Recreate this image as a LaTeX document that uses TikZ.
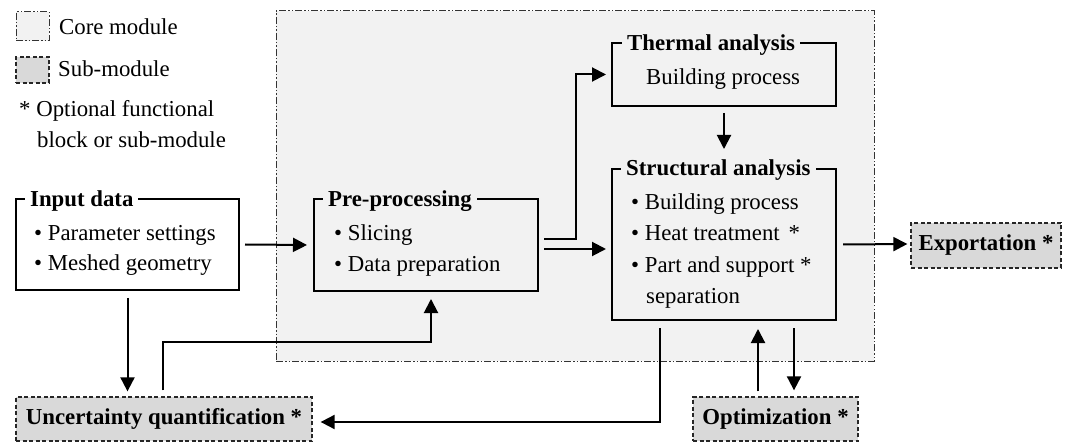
\documentclass[tikz,border=0pt]{standalone}
\usepackage{fontspec}
\setmainfont{Liberation Serif}
\usetikzlibrary{arrows.meta,calc}
\definecolor{corebg}{HTML}{F2F2F2}
\definecolor{subbg}{HTML}{D9D9D9}
\begin{document}
\begin{tikzpicture}[x=1pt,y=-1pt,
  every node/.style={font=\fontsize{22.8}{30}\selectfont},
  corebox/.style={draw=black!80,fill=corebg,line width=1pt,
     dash pattern=on 7pt off 2pt on 1.5pt off 2pt on 1.5pt off 2pt,inner sep=0pt},
  subbox/.style={draw=black!85,fill=subbg,line width=1.3pt,dash pattern=on 4pt off 2.5pt,inner sep=0pt,font=\fontsize{22.8}{30}\selectfont\bfseries},
  blk/.style={draw=black,line width=2pt,inner sep=0pt},
  ttl/.style={anchor=base west,inner xsep=5pt,inner ysep=1pt,font=\fontsize{22.8}{30}\selectfont\bfseries},
  txt/.style={anchor=base west,inner sep=0pt},
  arr/.style={line width=2pt,-{Triangle[length=14pt,width=14pt]}},
]
\useasboundingbox (0,0) rectangle (1067,443);

% core module area
\node[corebox,minimum width=598pt,minimum height=350pt] (core) at (575,186) {};

% legend
\node[corebox,minimum width=33pt,minimum height=29pt] (lgcore) at (32.5,26.5) {};
\node[txt] (lgcoret) at (59,35) {Core module};
\node[subbox,minimum width=33pt,minimum height=26pt] (lgsub) at (32.5,70) {};
\node[txt] (lgsubt) at (58,77) {Sub-module};
\node[txt] (lgopt1) at (19,117) {* Optional functional};
\node[txt] (lgopt2) at (37,148) {block or sub-module};

% Input data
\node[blk,minimum width=223pt,minimum height=91pt] (inp) at (127.5,244.5) {};
\node[ttl,fill=white] (inpT) at (25,207) {Input data};
\node[txt] (inp1) at (34,241) {\textbullet\ Parameter settings};
\node[txt] (inp2) at (34,271) {\textbullet\ Meshed geometry};

% Pre-processing
\node[blk,minimum width=224pt,minimum height=92pt] (pre) at (426,245) {};
\node[ttl,fill=corebg] (preT) at (323,207) {Pre-processing};
\node[txt] (pre1) at (334,241) {\textbullet\ Slicing};
\node[txt] (pre2) at (334,272) {\textbullet\ Data preparation};

% Thermal analysis
\node[blk,minimum width=224pt,minimum height=63pt] (therm) at (724,74.5) {};
\node[ttl,fill=corebg] (thermT) at (622,50.5) {Thermal analysis};
\node[txt] (therm1) at (646,85) {Building process};

% Structural analysis
\node[blk,minimum width=224pt,minimum height=151pt] (struct) at (724,244.5) {};
\node[ttl,fill=corebg] (structT) at (621,176) {Structural analysis};
\node[txt] (st1) at (631,210) {\textbullet\ Building process};
\node[txt] (st2) at (631,241) {\textbullet\ Heat treatment\hspace{9pt}*};
\node[txt] (st3) at (631,273) {\textbullet\ Part and support *};
\node[txt] (st4) at (646,304) {separation};

% Sub-modules
\node[subbox,minimum width=150pt,minimum height=45pt] (exp) at (986,245.5) {Exportation *};
\node[subbox,minimum width=165pt,minimum height=44pt] (opt) at (775.5,419) {Optimization *};
\node[subbox,minimum width=296pt,minimum height=44pt] (unc) at (164,419) {Uncertainty quantification *};

% connectors
\draw[arr] ($(inp.east)+(5,0)$) -- ($(pre.west)+(-6,0)$);
\draw[arr] ($(pre.east)+(5,-6)$) -- ++(32,0) |- ($(therm.west)+(-5,0)$);
\draw[arr] ($(pre.east)+(5,4)$) -- ($(pre.east -| struct.west)+(-5,4)$);
\draw[arr] ($(therm.south)+(0,6)$) -- ($(struct.north)+(0,-19)$);
\draw[arr] ($(struct.east)+(6,0)$) -- ($(exp.west)+(-3,-1.5)$);
\draw[arr] ($(struct.south)+(70,7)$) -- ($(opt.north)+(18.5,-6)$);
\draw[arr] ($(opt.north)+(-17.5,-5)$) -- ($(struct.south)+(34,8)$);
\draw[arr] ($(struct.south)+(-64,7)$) |- ($(unc.east)+(8,3)$);
\draw[arr] ($(inp.south)+(0,7)$) -- ($(inp.south |- unc.north)+(0,-5)$);
\draw[arr] ($(unc.north)+(-1,-6)$) -- ++(0,-48) -| ($(pre.south)+(5,7)$);
\end{tikzpicture}
\end{document}
